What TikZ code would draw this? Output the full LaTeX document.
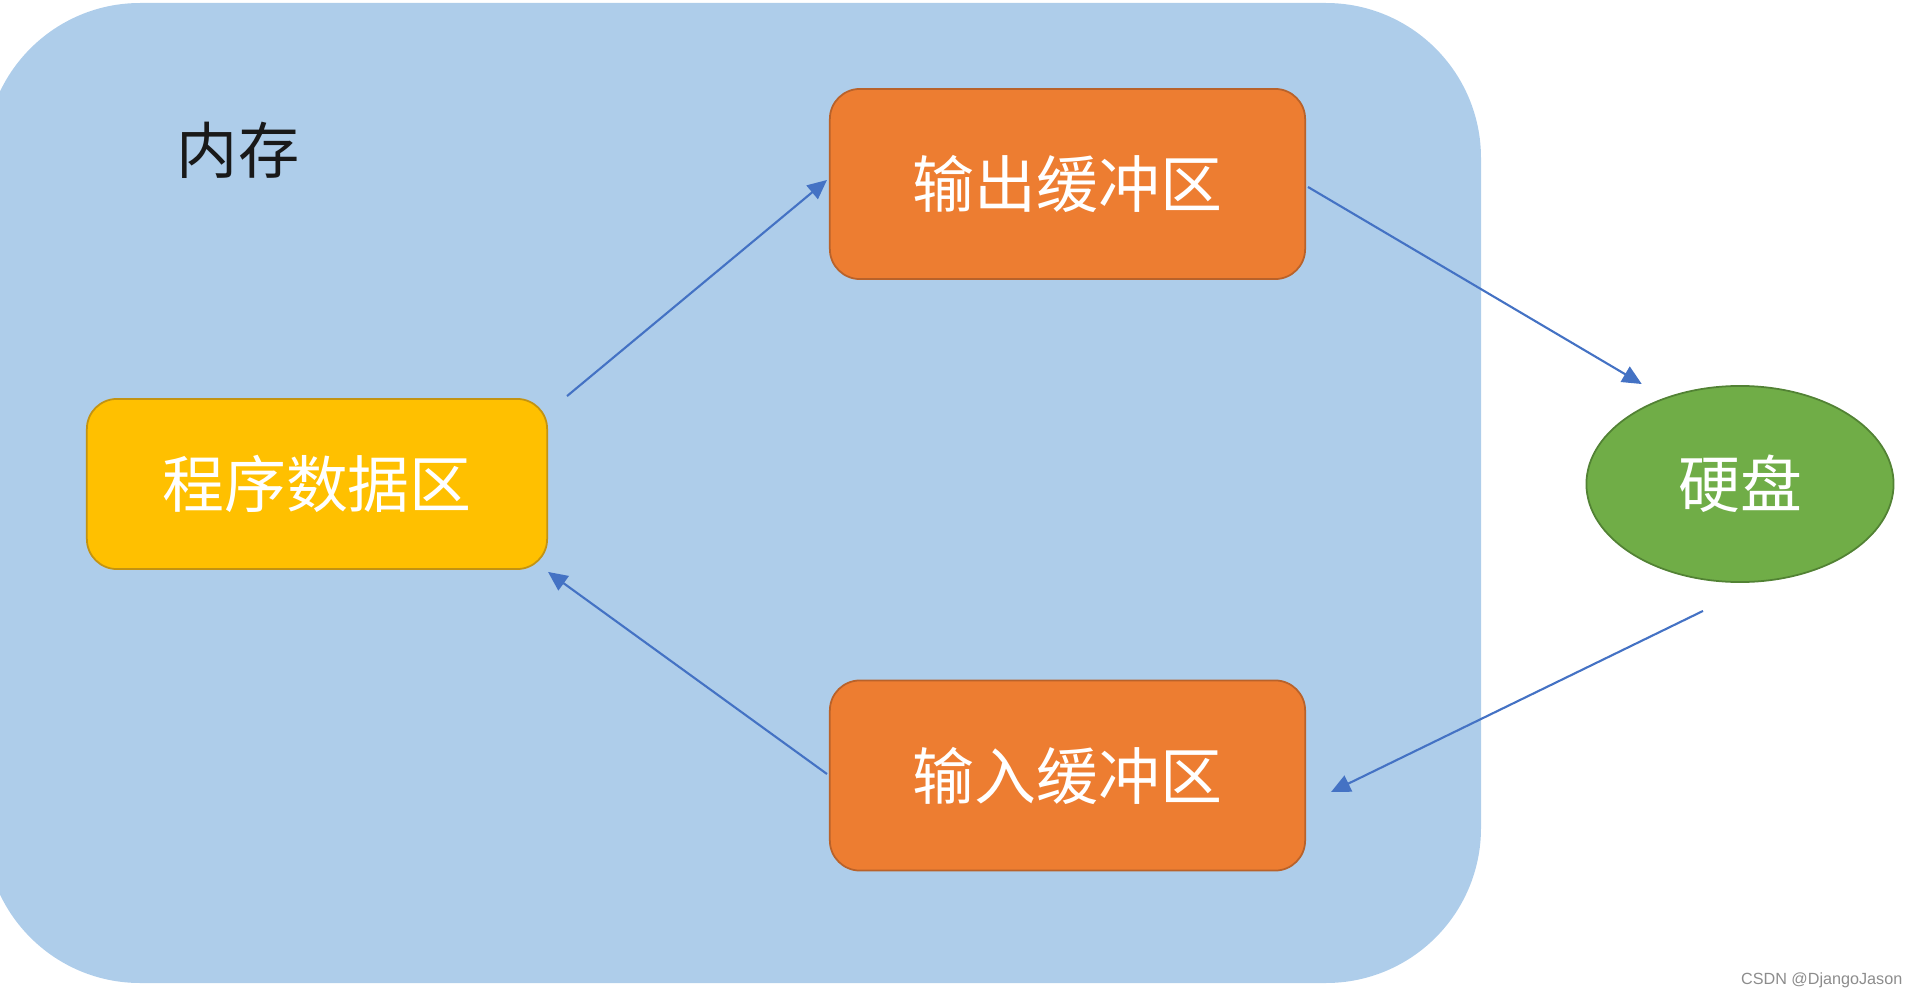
\documentclass[tikz,border=0pt]{standalone}
\usepackage{fontspec}
\newfontfamily\cjk{Noto Sans CJK SC}
\setmainfont{Liberation Sans}
\usetikzlibrary{arrows.meta,shapes.geometric}
\definecolor{memblue}{HTML}{AECDEA}
\definecolor{boxorange}{HTML}{ED7D31}
\definecolor{boxorangeb}{HTML}{B9622A}
\definecolor{boxyellow}{HTML}{FFC000}
\definecolor{boxyellowb}{HTML}{C39312}
\definecolor{diskgreen}{HTML}{70AD47}
\definecolor{diskgreenb}{HTML}{528234}
\definecolor{arrblue}{HTML}{4472C4}
\tikzset{
  buf/.style={rectangle, rounded corners=0.3cm, fill=boxorange, draw=boxorangeb, line width=0.5pt,
    minimum width=4.75cm, minimum height=1.9cm, text=white, font=\cjk\fontsize{17.6pt}{20pt}\selectfont, inner sep=0pt},
  progbox/.style={rectangle, rounded corners=0.3cm, fill=boxyellow, draw=boxyellowb, line width=0.5pt,
    minimum width=4.6cm, minimum height=1.7cm, text=white, font=\cjk\fontsize{17.6pt}{20pt}\selectfont, inner sep=0pt},
  diskbox/.style={ellipse, fill=diskgreen, draw=diskgreenb, line width=0.5pt,
    minimum width=3.07cm, minimum height=1.96cm, text=white, font=\cjk\fontsize{17.6pt}{20pt}\selectfont, inner sep=0pt},
  arr/.style={draw=arrblue, line width=0.6pt, -{Triangle[length=5.5pt,width=5pt]}, fill=arrblue}
}
\begin{document}
\begin{tikzpicture}[x=0.01cm,y=-0.01cm]
\useasboundingbox (0,0) rectangle (1917,1000);
% memory area
\fill[memblue, rounded corners=1.55cm] (-15,3) rectangle (1481,983);
\node[font=\cjk\fontsize{17.4pt}{20pt}\selectfont, text=black!90] (mem) at (238,150) {内存};
% nodes
\node[buf] (out) at (1067.5,184) {输出缓冲区};
\node[progbox] (prog) at (317,484) {程序数据区};
\node[buf] (in) at (1067.5,775.5) {输入缓冲区};
\node[diskbox] (disk) at (1740,484) {硬盘};
% arrows
\draw[arr] ([xshift=0.19cm,yshift=0.02cm]prog.north east) -- ([xshift=-0.02cm,yshift=0.04cm]out.west);
\draw[arr] ([xshift=0.02cm,yshift=-0.03cm]out.east) -- ([xshift=0.11cm,yshift=0.30cm]disk.north west);
\draw[arr] ([xshift=-0.37cm,yshift=-0.28cm]disk.south) -- ([xshift=0.25cm,yshift=-0.165cm]in.east);
\draw[arr] ([xshift=-0.02cm,yshift=0.015cm]in.west) -- ([yshift=-0.02cm]prog.south east);
% watermark
\node[font=\fontsize{4.6pt}{6pt}\selectfont, text=black!45, anchor=east, inner sep=0pt] (wm) at (1903,980) {CSDN @DjangoJason};
\end{tikzpicture}
\end{document}
